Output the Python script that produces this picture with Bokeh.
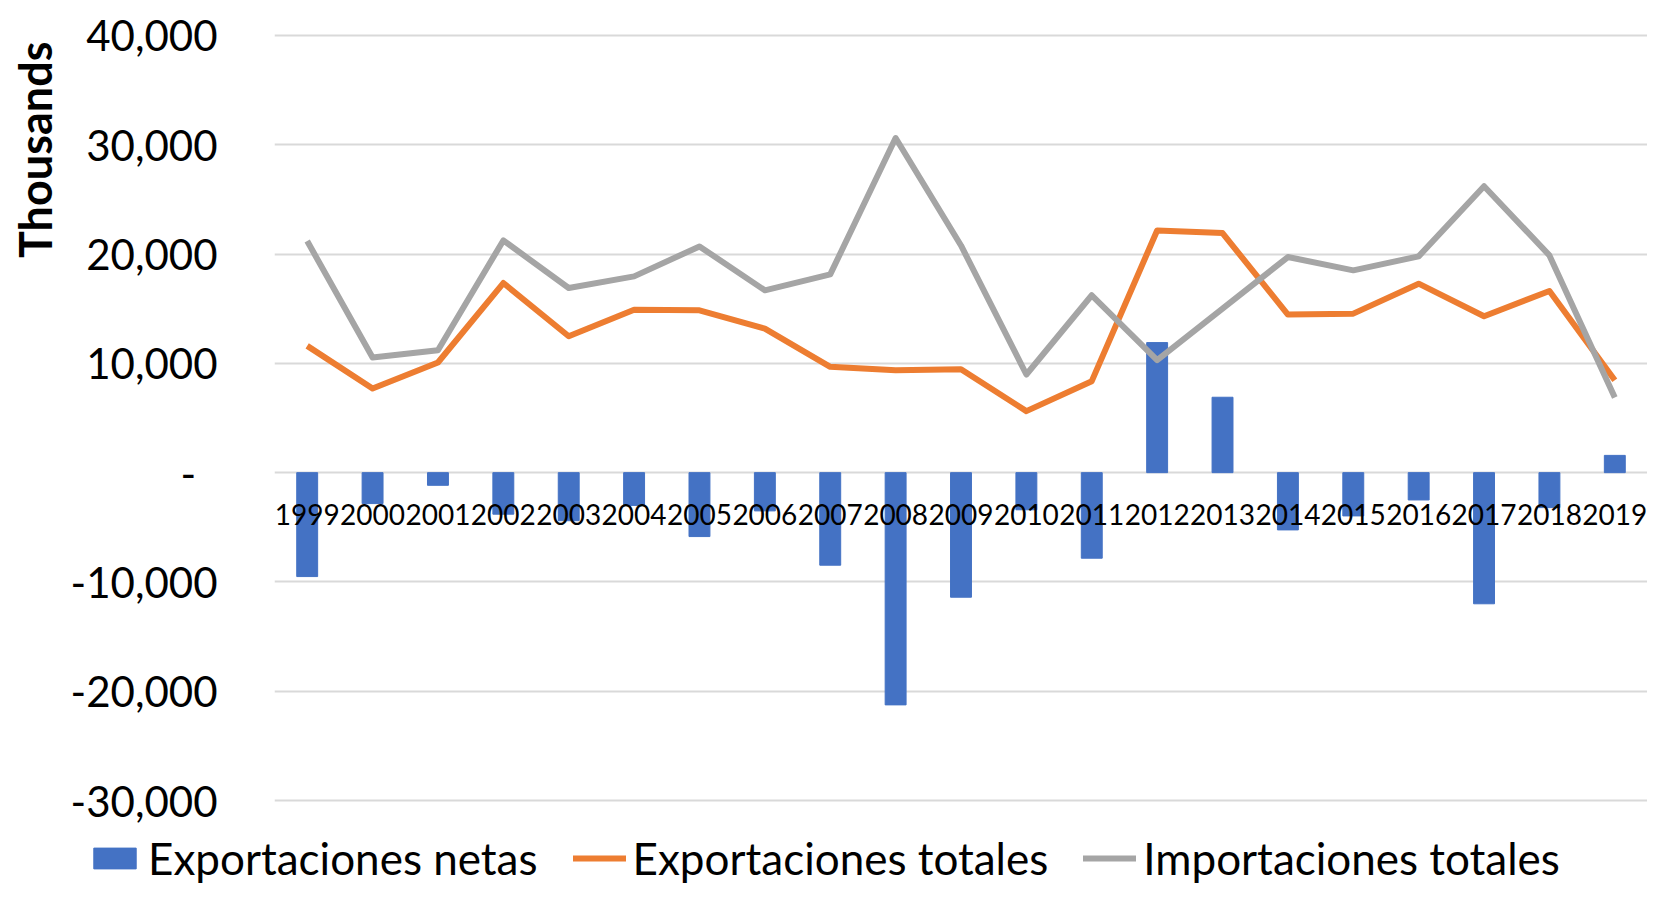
import math
from bokeh.plotting import figure
from bokeh.layouts import column
from bokeh.models import (Range1d, FactorRange, FixedTicker, CustomJSTickFormatter,
                          Legend, LegendItem, Title, ColumnDataSource, Plot)
from bokeh.core.properties import value
from bokeh.embed import file_html
from bokeh.resources import INLINE

years = [str(y) for y in range(1999, 2020)]
exportaciones_netas = [-9510, -2830, -1160, -3800, -4400, -3000, -5850, -3500, -8470,
                       -21250, -11400, -3400, -7830, 11900, 6900, -5240, -3960, -2500,
                       -12000, -3200, 1580]
exportaciones_totales = [11600, 7700, 10080, 17350, 12480, 14900, 14850, 13180, 9680,
                         9380, 9470, 5630, 8370, 22160, 21920, 14460, 14550, 17290,
                         14310, 16620, 8460]
importaciones_totales = [21190, 10530, 11200, 21250, 16900, 17960, 20700, 16680, 18140,
                         30620, 20790, 8980, 16230, 10290, 15000, 19730, 18510, 19790,
                         26210, 19880, 6880]
y_ticks = [-30000, -20000, -10000, 0, 10000, 20000, 30000, 40000]
series_names = ["Exportaciones netas", "Exportaciones totales", "Importaciones totales"]
axis_unit_label = "Thousands"

BLUE, ORANGE, GRAY = "#4472C4", "#ED7D31", "#A5A5A5"
FONT = "Lato"
LINE_W = 6

source = ColumnDataSource(dict(
    year=years,
    netas=exportaciones_netas,
    totales=exportaciones_totales,
    importaciones=importaciones_totales,
    zero=[0] * len(years),
))

# main chart; the plot area runs a little below the lowest gridline (-30,000)
p = figure(width=1647, height=830,
           x_range=FactorRange(*years),
           y_range=Range1d(-32745, 40183),
           output_backend="svg", toolbar_location=None,
           min_border_left=271, min_border_right=0,
           min_border_top=33, min_border_bottom=0)
p.outline_line_color = None
p.background_fill_color = "white"
p.border_fill_color = "white"

p.xgrid.visible = False
p.ygrid.grid_line_color = "#D9D9D9"
p.ygrid.grid_line_width = 1.8
p.xaxis.visible = False

yaxis = p.yaxis[0]
yaxis.ticker = FixedTicker(ticks=y_ticks)
yaxis.formatter = CustomJSTickFormatter(code=r"""
    if (tick == 0) { return "-\u00a0\u00a0"; }
    var s = Math.abs(tick).toString().replace(/\B(?=(\d{3})+(?!\d))/g, ",");
    return tick < 0 ? "-" + s : s;
""")
yaxis.axis_line_color = None
yaxis.major_tick_line_color = None
yaxis.minor_tick_line_color = None
yaxis.major_tick_out = 0
yaxis.minor_tick_out = 0
yaxis.major_label_standoff = 57
yaxis.major_label_text_font = FONT
yaxis.major_label_text_font_size = "42px"
yaxis.major_label_text_color = "#000000"

# "Thousands" display-unit label, at the top of the left side
p.add_layout(Title(text=axis_unit_label, align="right", offset=8, standoff=11,
                   text_font=FONT, text_font_style="bold",
                   text_font_size="45px", text_color="#000000"), "left")

bars = p.vbar(x="year", top="netas", bottom=0, width=0.32, source=source,
              fill_color=BLUE, line_color=BLUE)
l_exp = p.line(x="year", y="totales", source=source, line_color=ORANGE,
               line_width=LINE_W, line_join="round")
l_imp = p.line(x="year", y="importaciones", source=source, line_color=GRAY,
               line_width=LINE_W, line_join="round")

p.text(x="year", y="zero", text="year", source=source,
       text_font=value(FONT), text_font_size="28px", text_color="#000000",
       text_align="center", text_baseline="middle", y_offset=42)

# legend strip under the chart (its own small figure, so nothing is clipped);
# its y range is far away from the data, so its proxy glyphs stay out of view
lg = figure(width=1647, height=54,
            x_range=FactorRange(*years), y_range=Range1d(1e7, 1e7 + 1),
            output_backend="svg", toolbar_location=None,
            min_border_left=0, min_border_right=0, min_border_top=0, min_border_bottom=0)
lg.outline_line_color = None
lg.axis.visible = False
lg.grid.visible = False
k_bar = lg.vbar(x="year", top="netas", bottom=0, width=0.32, source=source,
                fill_color=BLUE, line_color=BLUE)
k_exp = lg.line(x="year", y="totales", source=source, line_color=ORANGE,
                line_width=LINE_W, line_cap="round")
k_imp = lg.line(x="year", y="importaciones", source=source, line_color=GRAY,
                line_width=LINE_W, line_cap="round")

if "frame_align" in Plot.properties():
    p.frame_align = False
    lg.frame_align = False
    legend_x = 88
else:
    legend_x = 88 - 271

legend = Legend(items=[LegendItem(label=series_names[0], renderers=[k_bar]),
                       LegendItem(label=series_names[1], renderers=[k_exp]),
                       LegendItem(label=series_names[2], renderers=[k_imp])],
                orientation="horizontal", location=(legend_x, 0),
                glyph_width=53, glyph_height=26,
                label_text_font=FONT, label_text_font_size="44px",
                label_text_color="#000000",
                label_standoff=7, spacing=35, padding=0, margin=0,
                border_line_color=None, background_fill_alpha=0)
lg.add_layout(legend, "center")

layout = column(p, lg, spacing=0)
open("out.html", "w").write(file_html(layout, INLINE))
